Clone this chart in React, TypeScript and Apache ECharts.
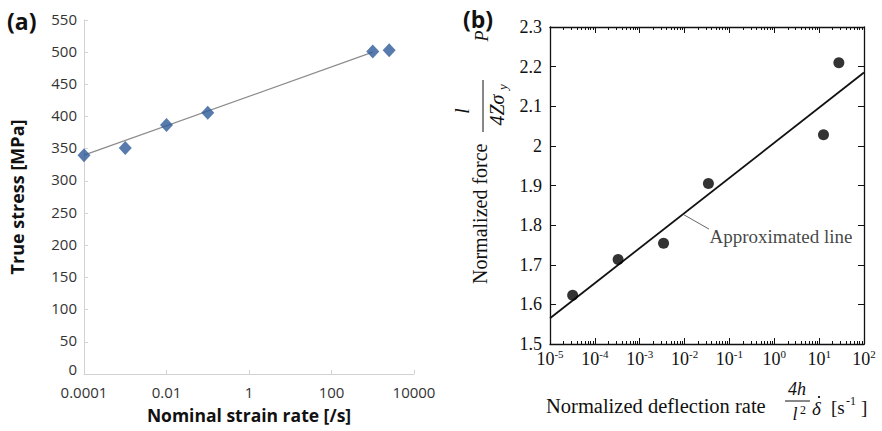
import React, { useEffect, useRef } from 'react';
import * as echarts from 'echarts';

// ---- Panel (a) data ----
const rateA = [1e-4, 1e-3, 1e-2, 1e-1, 1e3, 2500];
const stressA = [340, 351, 387, 406, 501, 503];
const fitRateA = [1e-4, 1e3];
const fitStressA = [340, 500];
const xTicksA = [1e-4, 1e-2, 1, 100, 1e4];
const xTickLabelsA = ['0.0001', '0.01', '1', '100', '10000'];

// ---- Panel (b) data ----
const rateB = [3.2e-5, 3.3e-4, 3.4e-3, 3.4e-2, 12.5, 27.5];
const forceB = [1.623, 1.713, 1.754, 1.905, 2.028, 2.21];
const fitRateB = [1e-5, 1e2];
const fitForceB = [1.565, 2.185];
const xExpB = [-5, -4, -3, -2, -1, 0, 1, 2];
const leaderRate = [0.0097, 0.035];
const leaderForce = [1.826, 1.79];
const annotRate = [0.036];
const annotForce = [1.772];
const annotText = 'Approximated line';

const xTicksB = xExpB.map((e) => Math.pow(10, e));
const minorTicksB: number[] = [];
xExpB.slice(0, -1).forEach((e) => {
  for (let k = 2; k <= 9; k++) minorTicksB.push(k * Math.pow(10, e));
});

const SANS = "'Open Sans', 'Liberation Sans', sans-serif";
const SERIF = "'Liberation Serif', 'DejaVu Serif', serif";

const zip = (a: number[], b: number[]) => a.map((v, i) => [v, b[i]]);

export default function App() {
  const ref = useRef<HTMLDivElement>(null);
  useEffect(() => {
    if (!ref.current) return;
    const chart = echarts.init(ref.current, undefined, { renderer: 'svg' });
    const labelA = (v: number) => {
      const i = xTicksA.findIndex((t) => Math.abs(Math.log10(t) - Math.log10(v)) < 1e-6);
      return i >= 0 ? xTickLabelsA[i] : '';
    };
    const labelYA = (v: number) => (v === 0 ? '{z|0}' : `{n|${v}}`);
    const labelB = (v: number) => `{b|10}{s|${Math.round(Math.log10(v))}}`;
    const black = '#111';
    const logB = { type: 'log', logBase: 10, gridIndex: 1, min: 1e-5, max: 1e2, splitLine: { show: false } };
    const t = (text: string, x: number, y: number, font: string, align = 'center', extra: any = {}) => ({
      type: 'text', x, y, style: { text, font, fill: black, align, verticalAlign: 'middle' }, ...extra,
    });
    const option: any = {
      animation: false,
      backgroundColor: '#fff',
      grid: [
        { left: 84, top: 20, width: 330, height: 354 },
        { left: 550, top: 27, width: 314, height: 317 },
      ],
      xAxis: [
        {
          type: 'log', logBase: 10, gridIndex: 0, min: 1e-4, max: 1e4,
          axisLine: { lineStyle: { color: '#d2d2d2', width: 1 } },
          axisTick: { show: true, inside: true, length: 4, customValues: xTicksA, lineStyle: { color: '#d2d2d2' } },
          axisLabel: {
            customValues: xTicksA, formatter: labelA, fontFamily: SANS, fontSize: 15,
            lineHeight: 14, color: '#333', margin: 11,
          },
          splitLine: { show: false },
        },
        {
          ...logB, position: 'bottom',
          axisLine: { lineStyle: { color: black, width: 1.3 } },
          axisTick: { show: true, inside: true, length: 6, customValues: xTicksB, lineStyle: { color: black } },
          axisLabel: {
            customValues: xTicksB, formatter: labelB, margin: 4,
            rich: {
              b: { fontFamily: SERIF, fontSize: 18, color: black, lineHeight: 20, verticalAlign: 'bottom' },
              s: { fontFamily: SERIF, fontSize: 11, color: black, lineHeight: 11, verticalAlign: 'top' },
            },
          },
        },
        {
          ...logB, position: 'bottom',
          axisLine: { show: false },
          axisTick: { show: true, inside: true, length: 3, customValues: minorTicksB, lineStyle: { color: black } },
          axisLabel: { show: false },
        },
        {
          ...logB, position: 'top',
          axisLine: { lineStyle: { color: black, width: 1.3 } },
          axisTick: { show: true, inside: true, length: 6, customValues: xTicksB, lineStyle: { color: black } },
          axisLabel: { show: false },
        },
        {
          ...logB, position: 'top',
          axisLine: { show: false },
          axisTick: { show: true, inside: true, length: 3, customValues: minorTicksB, lineStyle: { color: black } },
          axisLabel: { show: false },
        },
      ],
      yAxis: [
        {
          type: 'value', gridIndex: 0, min: 0, max: 550, interval: 50,
          axisLine: { show: true, lineStyle: { color: '#d2d2d2', width: 1 } },
          axisTick: { show: true, inside: true, length: 4, lineStyle: { color: '#d2d2d2' } },
          axisLabel: {
            formatter: labelYA, margin: 7,
            rich: {
              n: { fontFamily: SANS, fontSize: 15, lineHeight: 14, color: '#333', padding: [0, 0, 3, 0] },
              z: { fontFamily: SANS, fontSize: 15, lineHeight: 14, color: '#333', padding: [0, 0, 10, 0] },
            },
          },
          splitLine: { show: false },
        },
        {
          type: 'value', gridIndex: 1, min: 1.5, max: 2.3, interval: 0.1, position: 'left',
          axisLine: { show: true, lineStyle: { color: black, width: 1.3 } },
          axisTick: { show: true, inside: true, length: 6, lineStyle: { color: black } },
          axisLabel: { fontFamily: SERIF, fontSize: 18, color: black, margin: 8 },
          splitLine: { show: false },
        },
        {
          type: 'value', gridIndex: 1, min: 1.5, max: 2.3, interval: 0.1, position: 'right',
          axisLine: { show: true, lineStyle: { color: black, width: 1.3 } },
          axisTick: { show: true, inside: true, length: 6, lineStyle: { color: black } },
          axisLabel: { show: false },
          splitLine: { show: false },
        },
      ],
      series: [
        {
          type: 'line', xAxisIndex: 0, yAxisIndex: 0, data: zip(fitRateA, fitStressA),
          symbol: 'none', lineStyle: { color: '#8c8c8c', width: 1.2 }, z: 2,
        },
        {
          type: 'scatter', xAxisIndex: 0, yAxisIndex: 0, data: zip(rateA, stressA),
          symbol: 'diamond', symbolSize: [13, 14], itemStyle: { color: '#2c5a97' }, z: 3,
        },
        {
          type: 'line', xAxisIndex: 1, yAxisIndex: 1, data: zip(fitRateB, fitForceB),
          symbol: 'none', lineStyle: { color: black, width: 1.8 }, z: 2,
        },
        {
          type: 'scatter', xAxisIndex: 1, yAxisIndex: 1, data: zip(rateB, forceB),
          symbol: 'circle', symbolSize: 11, itemStyle: { color: '#000' }, z: 3,
        },
        {
          type: 'line', xAxisIndex: 1, yAxisIndex: 1, data: zip(leaderRate, leaderForce),
          symbol: 'none', lineStyle: { color: '#666', width: 1 }, z: 2,
        },
        {
          type: 'scatter', xAxisIndex: 1, yAxisIndex: 1, data: zip(annotRate, annotForce),
          symbolSize: 0, silent: true,
          label: {
            show: true, position: 'right', distance: 0, formatter: annotText,
            fontFamily: SERIF, fontSize: 19, color: black,
          },
        },
      ],
      graphic: [
        t('(a)', 7, 21, `bold 23px ${SANS}`, 'left'),
        t('(b)', 463, 19, `bold 23px ${SANS}`, 'left'),
        t('True stress [MPa]', 17, 197, `bold 18px ${SANS}`, 'center', { rotation: Math.PI / 2 }),
        t('Nominal strain rate [/s]', 249, 415, `bold 17.5px ${SANS}`, 'center'),
        // panel (b) y title: group rotated; local (u, v) -> screen (480 + v, 284 - u)
        {
          type: 'group', x: 480, y: 284, rotation: Math.PI / 2,
          children: [
            t('Normalized force', 0, 0, `20px ${SERIF}`, 'left'),
            t('l', 173, -18, `italic 20px ${SERIF}`, 'center'),
            { type: 'line', shape: { x1: 152, y1: 3, x2: 204, y2: 3 }, style: { stroke: black, lineWidth: 1 } },
            t('4Zσ', 174, 17, `italic 20px ${SERIF}`, 'center'),
            t('y', 194, 22, `italic 13px ${SERIF}`, 'left'),
            t('P', 248, 2, `italic 18px ${SERIF}`, 'center'),
          ],
        },
        // panel (b) x title
        t('Normalized deflection rate', 546, 406, `20.5px ${SERIF}`, 'left'),
        t('4h', 797, 389, `italic 18px ${SERIF}`, 'center'),
        { type: 'line', shape: { x1: 785, y1: 401, x2: 810, y2: 401 }, style: { stroke: black, lineWidth: 1 } },
        t('l', 795, 414, `italic 18px ${SERIF}`, 'center'),
        t('2', 800, 410, `12px ${SERIF}`, 'left'),
        t('δ', 812, 408, `italic 19px ${SERIF}`, 'left'),
        { type: 'circle', shape: { cx: 819, cy: 397, r: 1.1 }, style: { fill: black } },
        t('[s', 831, 407, `19px ${SERIF}`, 'left'),
        t('-1', 846, 401, `12px ${SERIF}`, 'left'),
        t(']', 861, 407, `19px ${SERIF}`, 'left'),
      ],
    };
    chart.setOption(option);
    return () => chart.dispose();
  }, []);
  return (
    <div
      ref={ref}
      style={{ position: 'absolute', left: 0, top: 0, width: 882, height: 431, background: '#fff' }}
    />
  );
}
